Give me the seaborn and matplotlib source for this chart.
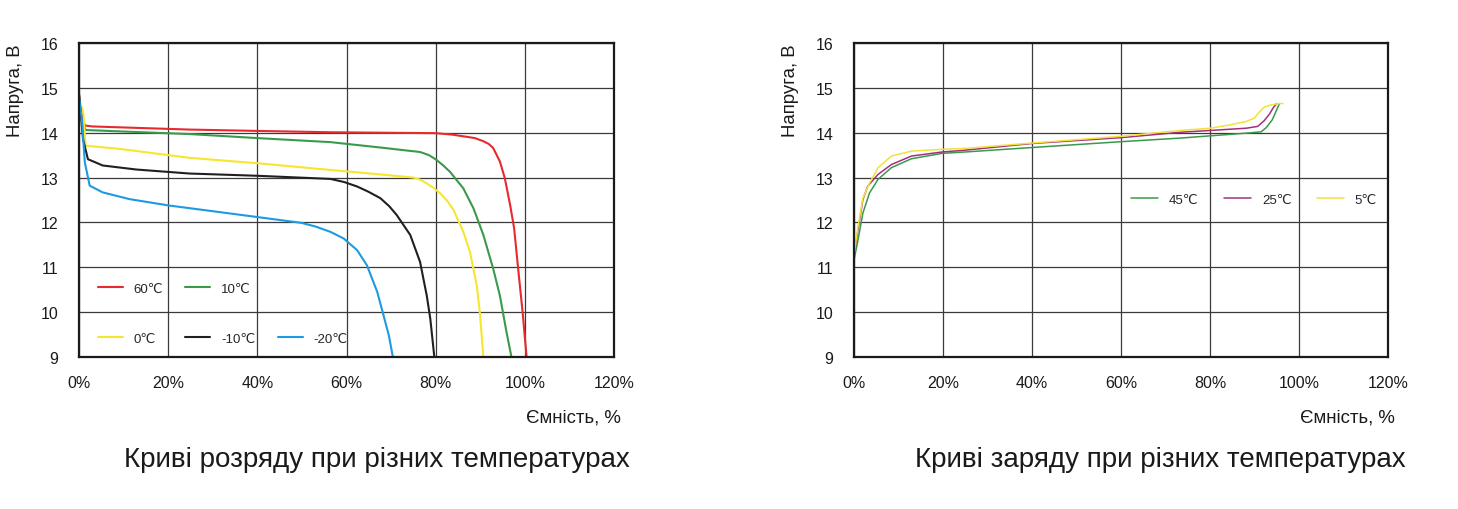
import numpy as np
import pandas as pd
import matplotlib
matplotlib.use("Agg")
import matplotlib.pyplot as plt
from matplotlib.lines import Line2D
from matplotlib.ticker import FuncFormatter
import seaborn as sns

# ---------------- data: discharge ----------------
dis_labels = ["60℃", "10℃", "0℃", "-10℃", "-20℃"]
dis_colors = ["#e62a2e", "#3a9a4c", "#f7e62e", "#231f20", "#1e9ae0"]

d60_x = [0, 0.5, 1.3, 3, 9.1, 24.8, 40, 56.4, 80, 83.5, 86.2, 88.8, 90.7, 91.9, 92.9, 94.4, 95.5, 96.7, 97.6, 98.5, 99.5, 100.4]
d60_y = [14.85, 14.45, 14.16, 14.14, 14.12, 14.07, 14.04, 14.01, 13.99, 13.96, 13.92, 13.88, 13.81, 13.75, 13.66, 13.36, 12.99, 12.39, 11.87, 10.97, 10.0, 9.0]

d10_x = [0, 0.6, 1.5, 9.1, 24.8, 40, 56.4, 67.6, 72, 76.5, 78.5, 80.1, 81.7, 83.2, 86.2, 88.5, 90.7, 92.9, 94.4, 95.9, 97.0]
d10_y = [14.7, 14.3, 14.06, 14.03, 13.97, 13.88, 13.79, 13.67, 13.62, 13.57, 13.5, 13.4, 13.27, 13.13, 12.76, 12.31, 11.72, 10.97, 10.37, 9.55, 9.0]

d0_x = [0, 0.97, 1.5, 9.1, 24.8, 40, 56.4, 67.6, 75, 76.6, 78, 79.5, 81, 82.6, 84, 86.2, 87.7, 89.2, 89.9, 90.7]
d0_y = [14.75, 14.45, 13.71, 13.64, 13.44, 13.32, 13.17, 13.07, 13.0, 12.95, 12.87, 12.77, 12.65, 12.48, 12.28, 11.79, 11.34, 10.6, 10.0, 9.0]

dm10_x = [0, 0.9, 2.0, 5.3, 12.8, 24.8, 40, 56.4, 59.5, 62.4, 64.8, 67.6, 69.6, 71.3, 74.3, 76.5, 78, 78.8, 79.7]
dm10_y = [14.87, 13.86, 13.41, 13.27, 13.18, 13.09, 13.04, 12.97, 12.9, 12.8, 12.69, 12.54, 12.36, 12.16, 11.72, 11.12, 10.37, 9.85, 9.0]

dm20_x = [0, 0.7, 1.3, 2.4, 5.3, 11.3, 20, 40, 49.9, 53, 56.4, 59.4, 62.4, 64.6, 66.9, 68.3, 69.5, 70.4]
dm20_y = [14.8, 14.23, 13.34, 12.82, 12.67, 12.52, 12.38, 12.12, 11.99, 11.91, 11.79, 11.64, 11.38, 11.04, 10.45, 9.93, 9.48, 9.0]

# ---------------- data: charge ----------------
chg_labels = ["45℃", "25℃", "5℃"]
chg_colors = ["#3a9a4c", "#a3307f", "#f2e23a"]

c45_x = [0, 0.9, 2.0, 3.5, 5.4, 8.4, 12.9, 19.8, 24.9, 40, 60, 73.3, 80, 88.1, 91.5, 92.7, 94.0, 94.9, 95.6]
c45_y = [11.16, 11.61, 12.21, 12.66, 12.96, 13.22, 13.42, 13.54, 13.57, 13.67, 13.8, 13.88, 13.93, 13.99, 14.02, 14.12, 14.29, 14.49, 14.65]

c25_x = [0, 0.9, 2.0, 3.1, 5.4, 8.4, 12.9, 19.8, 24.9, 40, 60, 73.3, 80, 88.1, 90.7, 92.2, 93.4, 94.3, 95.0]
c25_y = [11.24, 11.84, 12.51, 12.81, 13.07, 13.29, 13.48, 13.57, 13.61, 13.76, 13.89, 14.01, 14.05, 14.1, 14.14, 14.27, 14.42, 14.57, 14.65]

c5_x = [0, 0.9, 2.0, 3.5, 5.4, 8.4, 12.9, 19.8, 24.9, 40, 60, 73.3, 80, 84.3, 88.1, 89.9, 91.0, 92.2, 93.7, 95.5, 96.4]
c5_y = [11.28, 11.91, 12.54, 12.88, 13.22, 13.48, 13.59, 13.63, 13.65, 13.77, 13.92, 14.05, 14.1, 14.17, 14.25, 14.32, 14.45, 14.57, 14.62, 14.65, 14.65]

x_ticks = [0, 20, 40, 60, 80, 100, 120]
y_ticks = [9, 10, 11, 12, 13, 14, 15, 16]

ylabel_txt = "Напруга, В"
xlabel_txt = "Ємність, %"
title_left = "Криві розряду при різних температурах"
title_right = "Криві заряду при різних температурах"

dis_df = pd.concat([
    pd.DataFrame({"cap": x, "v": y, "t": lab})
    for x, y, lab in zip([d60_x, d10_x, d0_x, dm10_x, dm20_x],
                         [d60_y, d10_y, d0_y, dm10_y, dm20_y], dis_labels)
], ignore_index=True)
chg_df = pd.concat([
    pd.DataFrame({"cap": x, "v": y, "t": lab})
    for x, y, lab in zip([c45_x, c25_x, c5_x], [c45_y, c25_y, c5_y], chg_labels)
], ignore_index=True)

# ---------------- style ----------------
sns.set_style("white")
plt.rcParams["font.family"] = ["Liberation Sans", "DejaVu Sans"]
plt.rcParams["lines.solid_joinstyle"] = "round"

fig = plt.figure(figsize=(14.58, 5.10), dpi=100)
axL = fig.add_axes([79 / 1458, 1 - 358 / 510, 535 / 1458, 314 / 510])
axR = fig.add_axes([854 / 1458, 1 - 358 / 510, 534 / 1458, 314 / 510])

sns.lineplot(data=dis_df, x="cap", y="v", hue="t", hue_order=dis_labels,
             palette=dis_colors, estimator=None, sort=False, units="t",
             lw=1.5, ax=axL, legend=False)
sns.lineplot(data=chg_df, x="cap", y="v", hue="t", hue_order=chg_labels,
             palette=chg_colors, estimator=None, sort=False, units="t",
             lw=1.1, ax=axR, legend=False)

for ax in (axL, axR):
    ax.set_xlim(0, 120)
    ax.set_ylim(9, 16)
    ax.set_xticks(x_ticks)
    ax.set_yticks(y_ticks)
    ax.xaxis.set_major_formatter(FuncFormatter(lambda v, p: f"{int(v)}%"))
    ax.grid(True, color="#3a3a3a", lw=0.9)
    ax.set_axisbelow(True)
    ax.tick_params(axis="both", length=0, labelsize=11.5, colors="#1a1a1a")
    ax.tick_params(axis="y", pad=15)
    ax.tick_params(axis="x", pad=13)
    for s in ax.spines.values():
        s.set_visible(True)
        s.set_color("#1a1a1a")
        s.set_linewidth(1.6)
    ax.set_ylabel(ylabel_txt, fontsize=13.4, loc="top", color="#1a1a1a")
    ax.yaxis.set_label_coords(-0.103, 1.0)
    ax.set_xlabel(xlabel_txt, fontsize=13.4, loc="right", color="#1a1a1a")
    ax.xaxis.set_label_coords(1.012, -0.163)

# legends
def h(c, lw=1.5):
    return Line2D([], [], color=c, lw=lw)

blank = Line2D([], [], color="none")
lh = [h(dis_colors[0]), h(dis_colors[2]), h(dis_colors[1]), h(dis_colors[3]), blank, h(dis_colors[4])]
ll = [dis_labels[0], dis_labels[2], dis_labels[1], dis_labels[3], "", dis_labels[4]]
axL.legend(lh, ll, ncol=3, loc="upper left", bbox_to_anchor=(0.035, 0.237),
           frameon=False, fontsize=9.5, handlelength=1.9, handletextpad=0.8,
           columnspacing=1.7, labelspacing=2.85, borderpad=0, borderaxespad=0)

rh = [h(c, 1.1) for c in chg_colors]
axR.legend(rh, chg_labels, ncol=3, loc="upper left", bbox_to_anchor=(0.518, 0.521),
           frameon=False, fontsize=9.5, handlelength=2.1, handletextpad=0.8,
           columnspacing=1.9, borderpad=0, borderaxespad=0)

fig.text(377 / 1458, 1 - 460 / 510, title_left, ha="center", va="center", fontsize=20, color="#1a1a1a")
fig.text(1160 / 1458, 1 - 460 / 510, title_right, ha="center", va="center", fontsize=20, color="#1a1a1a")

fig.savefig("out.png", dpi=100)
